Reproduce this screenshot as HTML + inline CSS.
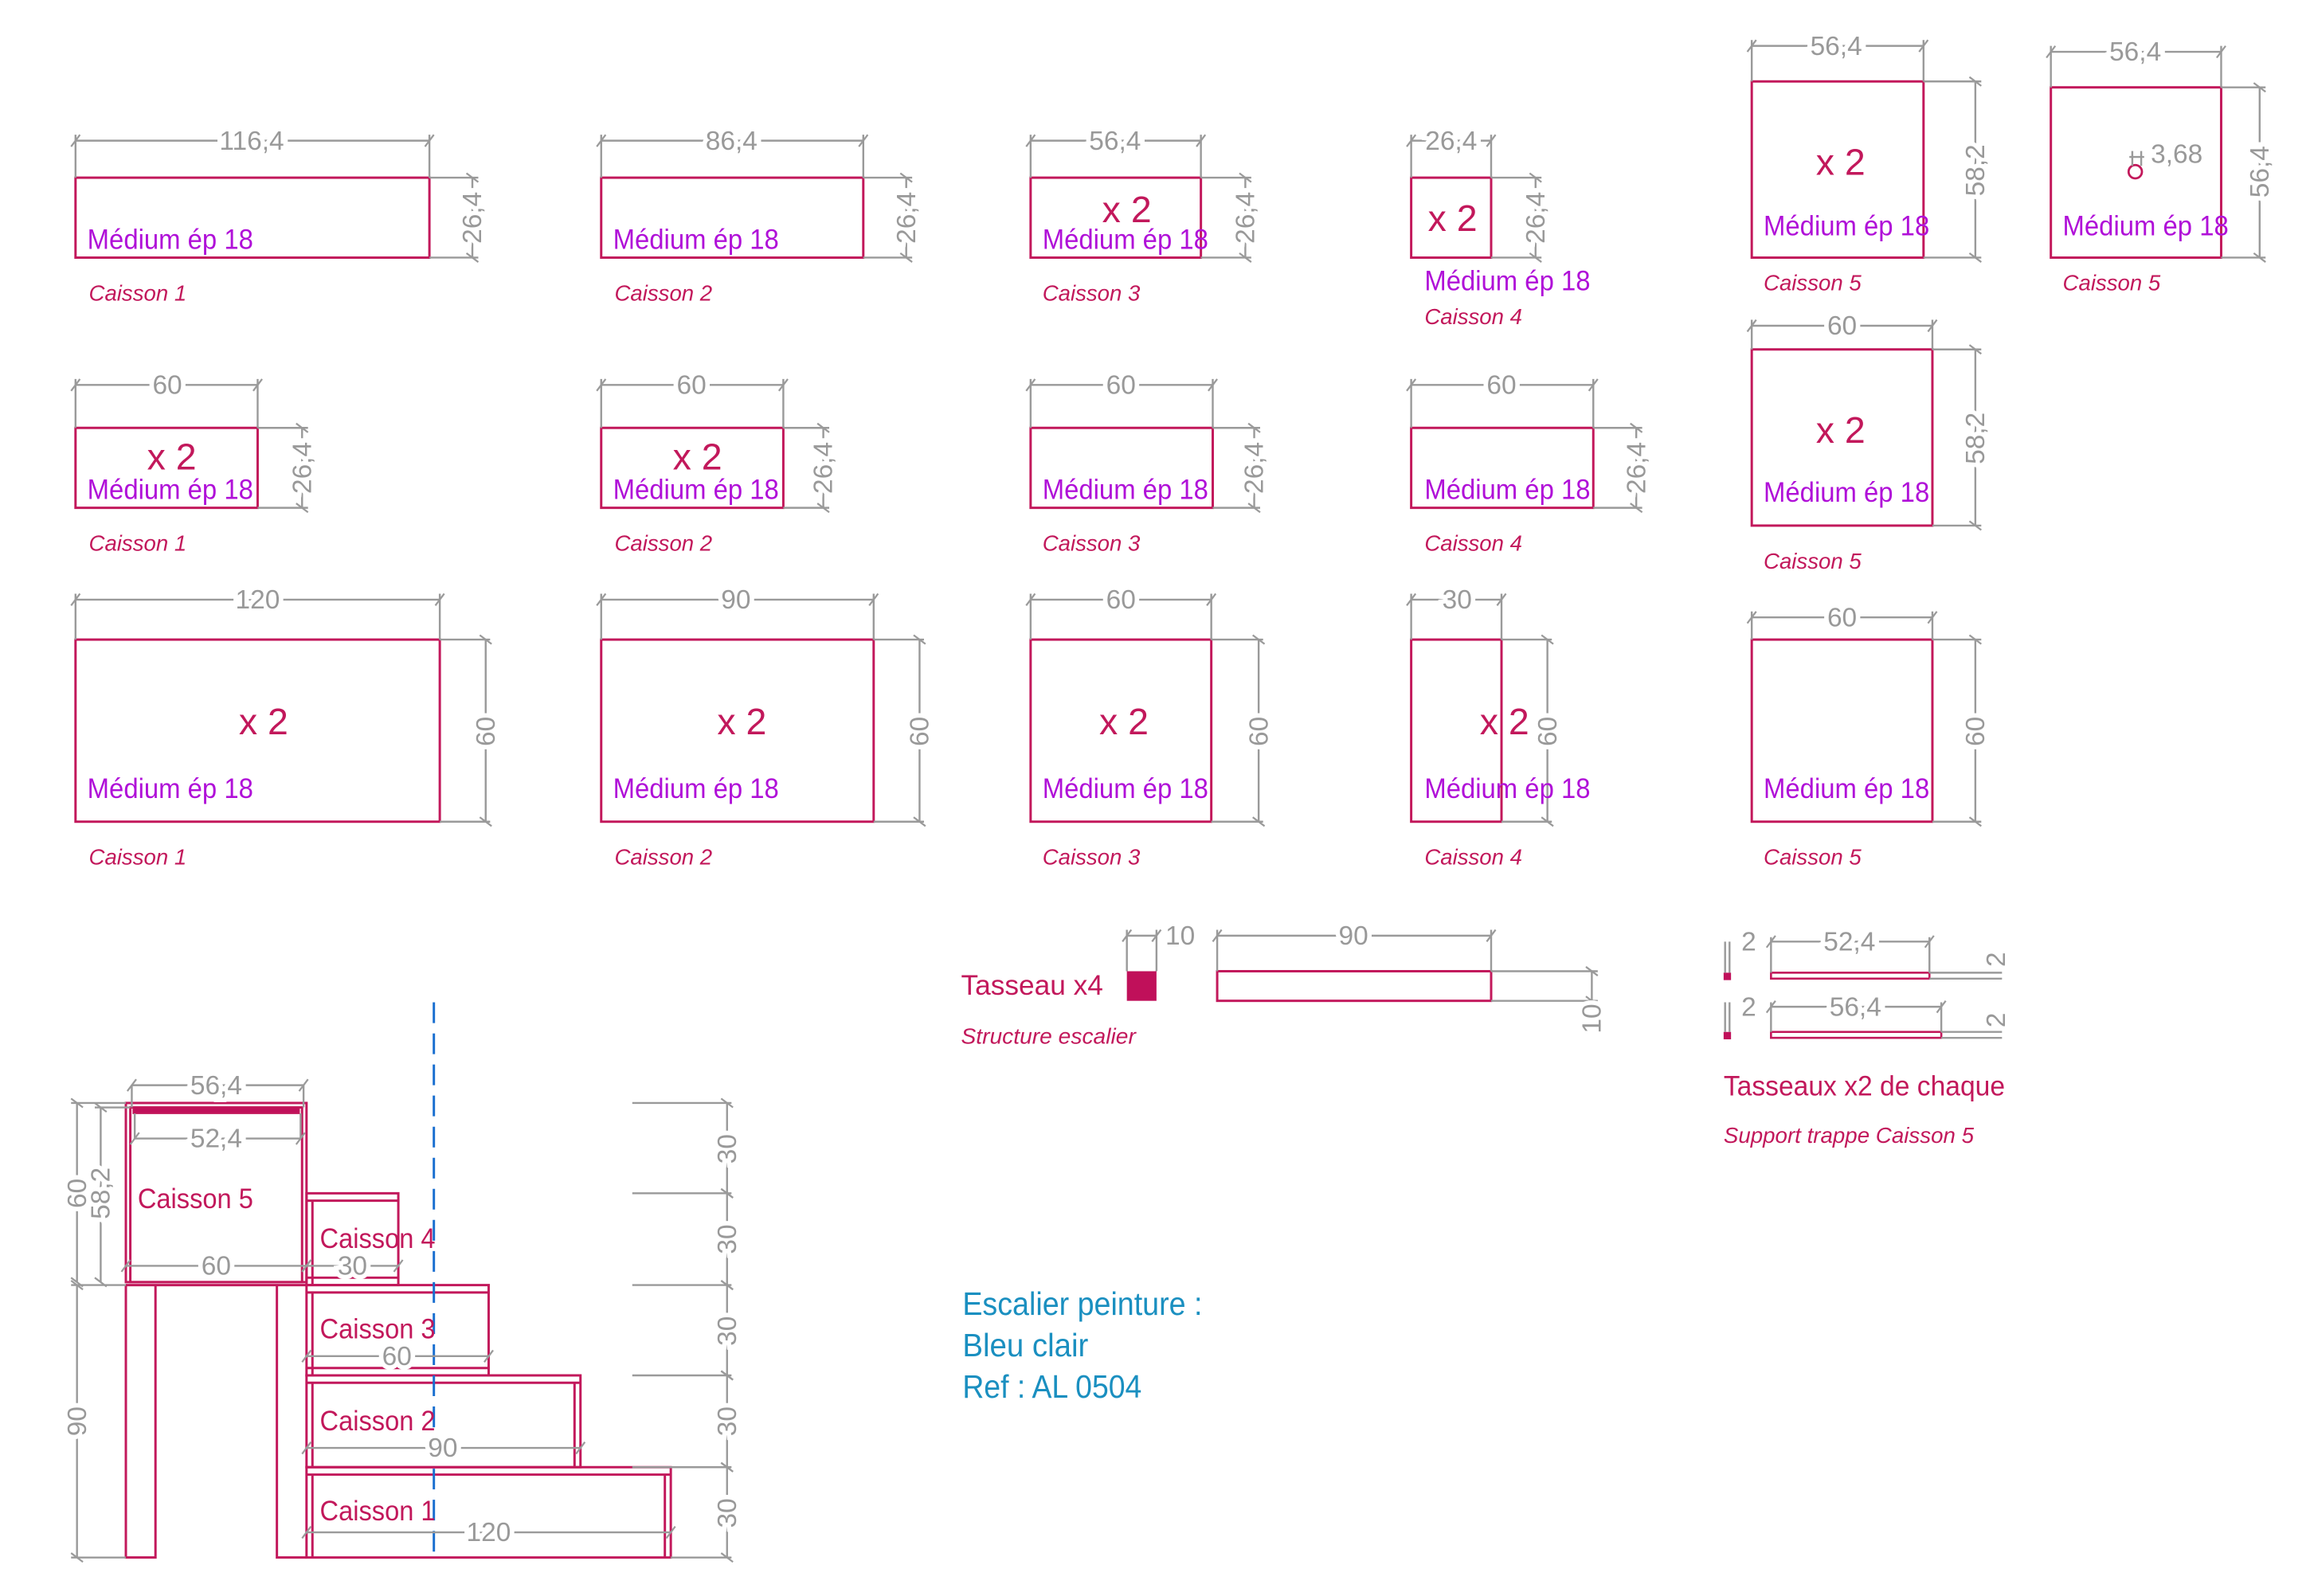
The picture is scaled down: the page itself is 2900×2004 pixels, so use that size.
<!DOCTYPE html>
<html><head><meta charset="utf-8"><style>
html,body{margin:0;padding:0;background:#fff}
svg{display:block}
.r{fill:none;stroke:#c2185b;stroke-width:1.6}
.d{stroke:#9a9a9a;stroke-width:1.3;fill:none;marker-start:url(#tk);marker-end:url(#tk)}
.e{stroke:#9a9a9a;stroke-width:1.3;fill:none}
text{font-family:"Liberation Sans",sans-serif}
.t{fill:#999;font-size:18px;paint-order:stroke;stroke:#fff;stroke-width:6px;text-anchor:middle}
.m{fill:#b010d8;font-size:19px}
.c{fill:#c2185b;font-style:italic;font-size:15px}
.x{fill:#c2185b;font-size:25px;text-anchor:middle}
.k{fill:#c2185b;font-size:19px}
.b{fill:#1a8fc0;font-size:22px}
</style></head><body>
<svg width="2900" height="2004" viewBox="0 0 1560 1078" xmlns="http://www.w3.org/2000/svg">
<defs><marker id="tk" markerWidth="10" markerHeight="10" refX="5" refY="5" orient="auto" markerUnits="userSpaceOnUse"><path d="M2 9 L8 1" stroke="#9a9a9a" stroke-width="1.2"/></marker></defs>

<!-- ROW 1 -->
<rect class="r" x="51" y="120" width="239" height="54"/>
<path class="e" d="M51 120V91M290 120V91M290 120H323M290 174H323"/>
<path class="d" d="M51 95H290"/><text class="t" x="170" y="101">116,4</text>
<path class="d" d="M319 120V174"/><text class="t" transform="rotate(-90 319 147)" x="319" y="153">26,4</text>
<text class="m" x="59" y="168" textLength="112" lengthAdjust="spacingAndGlyphs">Médium ép 18</text>
<text class="c" x="60" y="203" textLength="66" lengthAdjust="spacingAndGlyphs">Caisson 1</text>

<rect class="r" x="406" y="120" width="177" height="54"/>
<path class="e" d="M406 120V91M583 120V91M583 120H616M583 174H616"/>
<path class="d" d="M406 95H583"/><text class="t" x="494" y="101">86,4</text>
<path class="d" d="M612 120V174"/><text class="t" transform="rotate(-90 612 147)" x="612" y="153">26,4</text>
<text class="m" x="414" y="168" textLength="112" lengthAdjust="spacingAndGlyphs">Médium ép 18</text>
<text class="c" x="415" y="203" textLength="66" lengthAdjust="spacingAndGlyphs">Caisson 2</text>

<rect class="r" x="696" y="120" width="115" height="54"/>
<path class="e" d="M696 120V91M811 120V91M811 120H845M811 174H845"/>
<path class="d" d="M696 95H811"/><text class="t" x="753" y="101">56,4</text>
<path class="d" d="M841 120V174"/><text class="t" transform="rotate(-90 841 147)" x="841" y="153">26,4</text>
<text class="x" x="761" y="150">x 2</text>
<text class="m" x="704" y="168" textLength="112" lengthAdjust="spacingAndGlyphs">Médium ép 18</text>
<text class="c" x="704" y="203" textLength="66" lengthAdjust="spacingAndGlyphs">Caisson 3</text>

<rect class="r" x="953" y="120" width="54" height="54"/>
<path class="e" d="M953 120V91M1007 120V91M1007 120H1041M1007 174H1041"/>
<path class="d" d="M953 95H1007"/><text class="t" x="980" y="101">26,4</text>
<path class="d" d="M1037 120V174"/><text class="t" transform="rotate(-90 1037 147)" x="1037" y="153">26,4</text>
<text class="x" x="981" y="156">x 2</text>
<text class="m" x="962" y="196" textLength="112" lengthAdjust="spacingAndGlyphs">Médium ép 18</text>
<text class="c" x="962" y="219" textLength="66" lengthAdjust="spacingAndGlyphs">Caisson 4</text>

<rect class="r" x="1183" y="55" width="116" height="119"/>
<path class="e" d="M1183 55V27M1299 55V27M1299 55H1338M1299 174H1338"/>
<path class="d" d="M1183 31H1299"/><text class="t" x="1240" y="37">56,4</text>
<path class="d" d="M1334 55V174"/><text class="t" transform="rotate(-90 1334 115)" x="1334" y="121">58,2</text>
<text class="x" x="1243" y="118">x 2</text>
<text class="m" x="1191" y="159" textLength="112" lengthAdjust="spacingAndGlyphs">Médium ép 18</text>
<text class="c" x="1191" y="196" textLength="66" lengthAdjust="spacingAndGlyphs">Caisson 5</text>

<rect class="r" x="1385" y="59" width="115" height="115"/>
<path class="e" d="M1385 59V31M1500 59V31M1500 59H1530M1500 174H1530"/>
<path class="d" d="M1385 35H1500"/><text class="t" x="1442" y="41">56,4</text>
<path class="d" d="M1526 59V174"/><text class="t" transform="rotate(-90 1526 116)" x="1526" y="122">56,4</text>
<circle cx="1442" cy="116" r="4.5" fill="none" stroke="#c2185b" stroke-width="1.5"/>
<path class="e" d="M1438 106H1448M1440 102V112M1446 102V112"/>
<text class="t" x="1470" y="110">3,68</text>
<text class="m" x="1393" y="159" textLength="112" lengthAdjust="spacingAndGlyphs">Médium ép 18</text>
<text class="c" x="1393" y="196" textLength="66" lengthAdjust="spacingAndGlyphs">Caisson 5</text>

<!-- ROW 2 -->
<rect class="r" x="51" y="289" width="123" height="54"/>
<path class="e" d="M51 289V256M174 289V256M174 289H208M174 343H208"/>
<path class="d" d="M51 260H174"/><text class="t" x="113" y="266">60</text>
<path class="d" d="M204 289V343"/><text class="t" transform="rotate(-90 204 316)" x="204" y="322">26,4</text>
<text class="x" x="116" y="317">x 2</text>
<text class="m" x="59" y="337" textLength="112" lengthAdjust="spacingAndGlyphs">Médium ép 18</text>
<text class="c" x="60" y="372" textLength="66" lengthAdjust="spacingAndGlyphs">Caisson 1</text>

<rect class="r" x="406" y="289" width="123" height="54"/>
<path class="e" d="M406 289V256M529 289V256M529 289H560M529 343H560"/>
<path class="d" d="M406 260H529"/><text class="t" x="467" y="266">60</text>
<path class="d" d="M556 289V343"/><text class="t" transform="rotate(-90 556 316)" x="556" y="322">26,4</text>
<text class="x" x="471" y="317">x 2</text>
<text class="m" x="414" y="337" textLength="112" lengthAdjust="spacingAndGlyphs">Médium ép 18</text>
<text class="c" x="415" y="372" textLength="66" lengthAdjust="spacingAndGlyphs">Caisson 2</text>

<rect class="r" x="696" y="289" width="123" height="54"/>
<path class="e" d="M696 289V256M819 289V256M819 289H851M819 343H851"/>
<path class="d" d="M696 260H819"/><text class="t" x="757" y="266">60</text>
<path class="d" d="M847 289V343"/><text class="t" transform="rotate(-90 847 316)" x="847" y="322">26,4</text>
<text class="m" x="704" y="337" textLength="112" lengthAdjust="spacingAndGlyphs">Médium ép 18</text>
<text class="c" x="704" y="372" textLength="66" lengthAdjust="spacingAndGlyphs">Caisson 3</text>

<rect class="r" x="953" y="289" width="123" height="54"/>
<path class="e" d="M953 289V256M1076 289V256M1076 289H1109M1076 343H1109"/>
<path class="d" d="M953 260H1076"/><text class="t" x="1014" y="266">60</text>
<path class="d" d="M1105 289V343"/><text class="t" transform="rotate(-90 1105 316)" x="1105" y="322">26,4</text>
<text class="m" x="962" y="337" textLength="112" lengthAdjust="spacingAndGlyphs">Médium ép 18</text>
<text class="c" x="962" y="372" textLength="66" lengthAdjust="spacingAndGlyphs">Caisson 4</text>

<rect class="r" x="1183" y="236" width="122" height="119"/>
<path class="e" d="M1183 236V216M1305 236V216M1305 236H1338M1305 355H1338"/>
<path class="d" d="M1183 220H1305"/><text class="t" x="1244" y="226">60</text>
<path class="d" d="M1334 236V355"/><text class="t" transform="rotate(-90 1334 296)" x="1334" y="302">58,2</text>
<text class="x" x="1243" y="299">x 2</text>
<text class="m" x="1191" y="339" textLength="112" lengthAdjust="spacingAndGlyphs">Médium ép 18</text>
<text class="c" x="1191" y="384" textLength="66" lengthAdjust="spacingAndGlyphs">Caisson 5</text>

<!-- ROW 3 -->
<rect class="r" x="51" y="432" width="246" height="123"/>
<path class="e" d="M51 432V401M297 432V401M297 432H331M297 555H331"/>
<path class="d" d="M51 405H297"/><text class="t" x="174" y="411">120</text>
<path class="d" d="M328 432V555"/><text class="t" transform="rotate(-90 328 494)" x="328" y="500">60</text>
<text class="x" x="178" y="496">x 2</text>
<text class="m" x="59" y="539" textLength="112" lengthAdjust="spacingAndGlyphs">Médium ép 18</text>
<text class="c" x="60" y="584" textLength="66" lengthAdjust="spacingAndGlyphs">Caisson 1</text>

<rect class="r" x="406" y="432" width="184" height="123"/>
<path class="e" d="M406 432V401M590 432V401M590 432H624M590 555H624"/>
<path class="d" d="M406 405H590"/><text class="t" x="497" y="411">90</text>
<path class="d" d="M621 432V555"/><text class="t" transform="rotate(-90 621 494)" x="621" y="500">60</text>
<text class="x" x="501" y="496">x 2</text>
<text class="m" x="414" y="539" textLength="112" lengthAdjust="spacingAndGlyphs">Médium ép 18</text>
<text class="c" x="415" y="584" textLength="66" lengthAdjust="spacingAndGlyphs">Caisson 2</text>

<rect class="r" x="696" y="432" width="122" height="123"/>
<path class="e" d="M696 432V401M818 432V401M818 432H853M818 555H853"/>
<path class="d" d="M696 405H818"/><text class="t" x="757" y="411">60</text>
<path class="d" d="M850 432V555"/><text class="t" transform="rotate(-90 850 494)" x="850" y="500">60</text>
<text class="x" x="759" y="496">x 2</text>
<text class="m" x="704" y="539" textLength="112" lengthAdjust="spacingAndGlyphs">Médium ép 18</text>
<text class="c" x="704" y="584" textLength="66" lengthAdjust="spacingAndGlyphs">Caisson 3</text>

<rect class="r" x="953" y="432" width="61" height="123"/>
<path class="e" d="M953 432V401M1014 432V401M1014 432H1048M1014 555H1048"/>
<path class="d" d="M953 405H1014"/><text class="t" x="984" y="411">30</text>
<path class="d" d="M1045 432V555"/><text class="t" transform="rotate(-90 1045 494)" x="1045" y="500">60</text>
<text class="x" x="1016" y="496">x 2</text>
<text class="m" x="962" y="539" textLength="112" lengthAdjust="spacingAndGlyphs">Médium ép 18</text>
<text class="c" x="962" y="584" textLength="66" lengthAdjust="spacingAndGlyphs">Caisson 4</text>

<rect class="r" x="1183" y="432" width="122" height="123"/>
<path class="e" d="M1183 432V413M1305 432V413M1305 432H1338M1305 555H1338"/>
<path class="d" d="M1183 417H1305"/><text class="t" x="1244" y="423">60</text>
<path class="d" d="M1334 432V555"/><text class="t" transform="rotate(-90 1334 494)" x="1334" y="500">60</text>
<text class="m" x="1191" y="539" textLength="112" lengthAdjust="spacingAndGlyphs">Médium ép 18</text>
<text class="c" x="1191" y="584" textLength="66" lengthAdjust="spacingAndGlyphs">Caisson 5</text>

<!-- Tasseau -->
<text class="k" x="649" y="672" textLength="96" lengthAdjust="spacingAndGlyphs">Tasseau  x4</text>
<rect x="761" y="656" width="20" height="20" fill="#c0105a"/>
<path class="e" d="M761 656V628M781 656V628"/>
<path class="d" d="M761 632H781"/><text class="t" x="797" y="638">10</text>
<text class="c" x="649" y="705" textLength="118" lengthAdjust="spacingAndGlyphs">Structure escalier</text>
<rect class="r" x="822" y="656" width="185" height="20"/>
<path class="e" d="M822 656V628M1007 656V628M1007 656H1079M1007 676H1079"/>
<path class="d" d="M822 632H1007"/><text class="t" x="914" y="638">90</text>
<path class="d" d="M1075 656V676"/><text class="t" transform="rotate(-90 1075 688)" x="1075" y="694">10</text>

<!-- Tasseaux trappe -->
<rect x="1164" y="657" width="5" height="5" fill="#c0105a"/>
<path class="e" d="M1165 657V636M1168 657V636"/><text class="t" x="1181" y="642">2</text>
<rect x="1196" y="657" width="107" height="4" fill="none" stroke="#c2185b" stroke-width="1.4"/>
<path class="e" d="M1196 657V633M1303 657V633M1303 657H1352M1303 661H1352"/>
<path class="d" d="M1196 636H1303"/><text class="t" x="1249" y="642">52,4</text>
<text class="t" transform="rotate(-90 1348 648)" x="1348" y="654">2</text>
<rect x="1164" y="697" width="5" height="5" fill="#c0105a"/>
<path class="e" d="M1165 697V677M1168 697V677"/><text class="t" x="1181" y="686">2</text>
<rect x="1196" y="697" width="115" height="4" fill="none" stroke="#c2185b" stroke-width="1.4"/>
<path class="e" d="M1196 697V677M1311 697V677M1311 697H1352M1311 701H1352"/>
<path class="d" d="M1196 680H1311"/><text class="t" x="1253" y="686">56,4</text>
<text class="t" transform="rotate(-90 1348 689)" x="1348" y="695">2</text>
<text class="k" x="1164" y="740" textLength="190" lengthAdjust="spacingAndGlyphs">Tasseaux  x2 de chaque</text>
<text class="c" x="1164" y="772" textLength="169" lengthAdjust="spacingAndGlyphs">Support trappe Caisson 5</text>

<!-- Blue text -->
<text class="b" x="650" y="888" textLength="162" lengthAdjust="spacingAndGlyphs">Escalier peinture :</text>
<text class="b" x="650" y="916" textLength="85" lengthAdjust="spacingAndGlyphs">Bleu clair</text>
<text class="b" x="650" y="944" textLength="121" lengthAdjust="spacingAndGlyphs">Ref : AL 0504</text>

<!-- Assembly -->
<g class="r">
<rect x="85" y="745" width="122" height="121"/>
<rect x="88" y="748" width="116" height="118"/>
<rect x="90" y="748" width="112" height="4" fill="#c0105a" stroke-width="1"/>
<path d="M85 868H207M85 868V1052H105V868M187 868V1052H207"/>
<rect x="207" y="806" width="62" height="62"/><path d="M207 811H269M211 811V868M207 863H269"/>
<rect x="207" y="868" width="123" height="61"/><path d="M207 873H330M211 873V929M207 924H330"/>
<rect x="207" y="929" width="185" height="62"/><path d="M207 934H392M211 934V991M388 934V991"/>
<rect x="207" y="991" width="246" height="61"/><path d="M207 996H453M211 996V1052M449 996V1052"/>
</g>
<path d="M293 677V1052" stroke="#1a6fd0" stroke-width="1.6" stroke-dasharray="14 7"/>
<path class="d" d="M89 733H205"/><text class="t" x="146" y="739">56,4</text>
<path class="e" d="M89 733V748M205 733V748M91 769V752M203 769V752"/>
<path class="d" d="M91 769H203"/><text class="t" x="146" y="775">52,4</text>
<path class="d" d="M85 855H207"/><text class="t" x="146" y="861">60</text>
<path class="d" d="M207 855H269"/><text class="t" x="238" y="861">30</text>
<path class="d" d="M207 916H330"/><text class="t" x="268" y="922">60</text>
<path class="d" d="M207 978H392"/><text class="t" x="299" y="984">90</text>
<path class="d" d="M207 1035H453"/><text class="t" x="330" y="1041">120</text>
<path class="e" d="M48 745H85M64 748H88M48 868H85M48 1052H85"/>
<path class="d" d="M52 745V866"/><text class="t" transform="rotate(-90 52 806)" x="52" y="812">60</text>
<path class="d" d="M68 748V866"/><text class="t" transform="rotate(-90 68 806)" x="68" y="812">58,2</text>
<path class="d" d="M52 868V1052"/><text class="t" transform="rotate(-90 52 960)" x="52" y="966">90</text>
<path class="e" d="M427 745H494M427 806H494M427 868H494M427 929H494M427 991H494M453 1052H494"/>
<path class="d" d="M491 745V806"/><path class="d" d="M491 806V868"/><path class="d" d="M491 868V929"/><path class="d" d="M491 929V991"/><path class="d" d="M491 991V1052"/>
<text class="t" transform="rotate(-90 491 776)" x="491" y="782">30</text>
<text class="t" transform="rotate(-90 491 837)" x="491" y="843">30</text>
<text class="t" transform="rotate(-90 491 899)" x="491" y="905">30</text>
<text class="t" transform="rotate(-90 491 960)" x="491" y="966">30</text>
<text class="t" transform="rotate(-90 491 1022)" x="491" y="1028">30</text>
<text class="k" x="93" y="816" textLength="78" lengthAdjust="spacingAndGlyphs">Caisson 5</text>
<text class="k" x="216" y="843" textLength="78" lengthAdjust="spacingAndGlyphs">Caisson 4</text>
<text class="k" x="216" y="904" textLength="78" lengthAdjust="spacingAndGlyphs">Caisson 3</text>
<text class="k" x="216" y="966" textLength="78" lengthAdjust="spacingAndGlyphs">Caisson 2</text>
<text class="k" x="216" y="1027" textLength="78" lengthAdjust="spacingAndGlyphs">Caisson 1</text>
</svg>
</body></html>
